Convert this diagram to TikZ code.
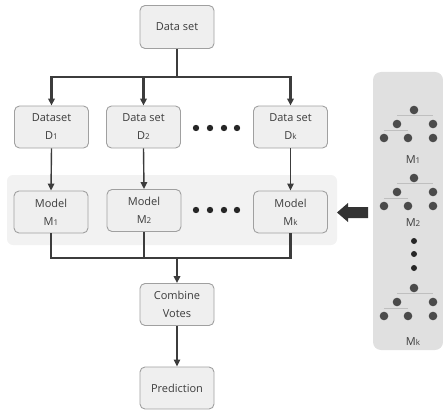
\documentclass[tikz,border=0pt]{standalone}
\usepackage{fontspec}
\setmainfont{Open Sans}
\usepackage{tikz}
\usetikzlibrary{shapes,arrows.meta,positioning}
\definecolor{boxfill}{RGB}{239,239,239}
\definecolor{boxline}{RGB}{160,160,160}
\definecolor{bandfill}{RGB}{242,242,242}
\definecolor{panelfill}{RGB}{224,224,224}
\definecolor{linegray}{RGB}{60,60,60}
\definecolor{dotgray}{RGB}{75,75,75}
\definecolor{txtgray}{RGB}{60,60,60}
\newcommand{\idx}[1]{{\fontsize{8}{8}\selectfont #1}}

\begin{document}
\begin{tikzpicture}[x=1pt,y=-1pt,
  box/.style={draw=boxline,line width=0.9pt,fill=boxfill,rounded corners=5pt,
    minimum width=74pt,minimum height=42pt,align=center,text=txtgray,inner sep=2pt,
    font=\fontsize{11}{18}\selectfont},
  thickline/.style={draw=linegray,line width=2.3pt},
  thinline/.style={draw=linegray,line width=1.4pt},
  tip/.style={-{Triangle[length=7pt,width=6.5pt]}},
  leaf/.style={fill=dotgray}]
\useasboundingbox (0,0) rectangle (443,409);

% backgrounds
\fill[bandfill,rounded corners=6pt] (7,175) rectangle (337,245);
\fill[panelfill,rounded corners=8pt] (373,72) rectangle (443,350);

% boxes
\node[box,minimum height=43pt] (data) at (177,27) {Data set};
\node[box] (d1) at (51.5,127) {Dataset\\D\idx{1}};
\node[box] (d2) at (143.5,127) {Data set\\D\idx{2}};
\node[box] (dk) at (290.5,127) {Data set\\D\idx{k}};
\node[box] (m1) at (51,212) {Model\\M\idx{1}};
\node[box] (m2) at (144,210.5) {Model\\M\idx{2}};
\node[box] (mk) at (290.5,212) {Model\\M\idx{k}};
\node[box] (comb) at (177,304.5) {Combine\\Votes};
\node[box] (pred) at (177,388) {Prediction};

% split and join points
\coordinate (split) at (177,77);
\coordinate (join) at (177,258);

\draw[thickline] (data.south) -- (split);
\draw[thickline,tip] (split) -| (d1.north);
\draw[thickline,tip] (split) -| (d2.north);
\draw[thickline,tip] (split) -| (dk.north);

\draw[thinline,tip] (d1.south) -- (m1.north);
\draw[thinline,tip] (d2.south) -- (m2.north);
\draw[thinline,tip] (dk.south) -- (mk.north);

\draw[thickline] (m1.south) |- (join);
\draw[thickline] (m2.south) |- (join);
\draw[thickline] (mk.south) |- (join);
\draw[thickline,tip] (join) -- (comb.north);
\draw[thinline,tip] (comb.south) -- (pred.north);

% dots between boxes
\foreach \x in {196,210,224,237} {
  \fill[black!85] (\x,128) circle[radius=3.2pt];
  \fill[black!85] (\x,210) circle[radius=3.2pt];
}

% block arrow
\fill[black!80] (368,207) -- (348,207) -- (348,203) -- (337,212.5)
  -- (348,222) -- (348,218) -- (368,218) -- cycle;

% trees
\foreach \ty in {110,178,288} {
  \draw[black!25,line width=0.8pt] (397,\ty+5) -- (433,\ty+5);
  \draw[black!25,line width=0.8pt] (384,\ty+20) -- (408,\ty+20);
  \foreach \lx/\ly in {414/0,397/14,433/14,384/28,408/28,433/28}
    \fill[leaf] (\lx,\ty+\ly) circle[radius=4.3pt];
}
\node[text=txtgray,font=\fontsize{11}{11}\selectfont] (t1) at (413,160) {M\idx{1}};
\node[text=txtgray,font=\fontsize{11}{11}\selectfont] (t2) at (413,223) {M\idx{2}};
\node[text=txtgray,font=\fontsize{11}{11}\selectfont] (tk) at (413,342) {M\idx{k}};
\foreach \ty in {241,254,268}
  \fill[black!85] (414,\ty) circle[radius=3pt];
\end{tikzpicture}
\end{document}
